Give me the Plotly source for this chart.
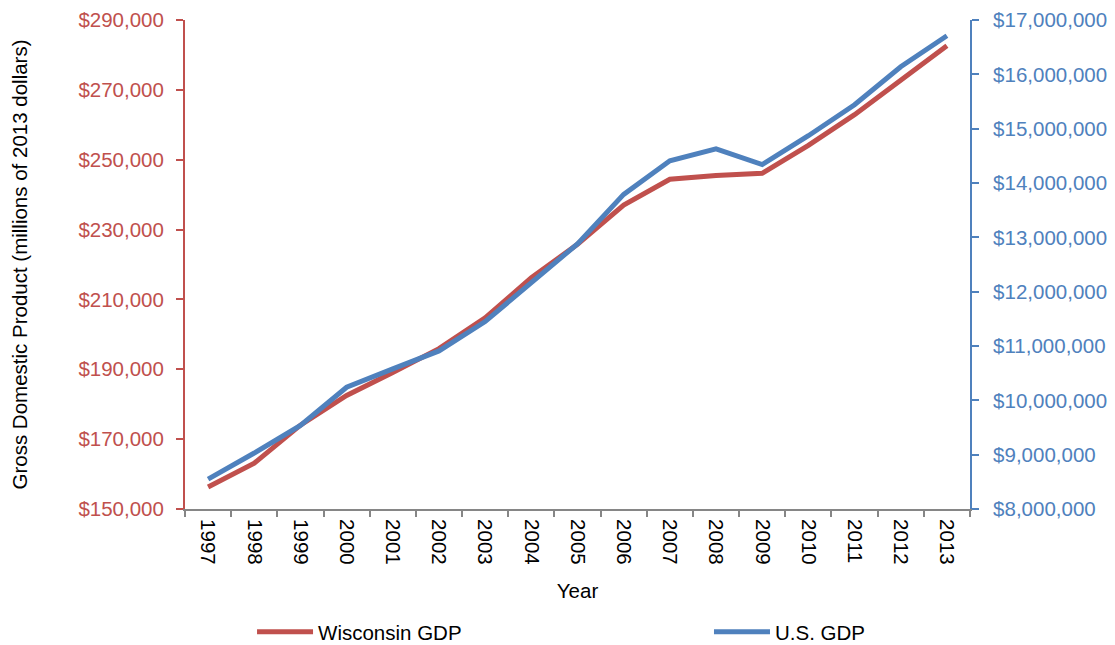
import plotly.graph_objects as go

years = [str(y) for y in range(1997, 2014)]
wisconsin_gdp = [156300, 163100, 174000, 182500, 189100, 195900, 204750, 216200,
                 225800, 237000, 244400, 245500, 246100, 254100, 262900, 272900, 282600]
us_gdp = [8550000, 9030000, 9540000, 10240000, 10580000, 10910000, 11450000, 12160000,
          12880000, 13790000, 14410000, 14630000, 14340000, 14870000, 15440000, 16140000, 16710000]

RED = "#C0504D"
BLUE = "#4F81BD"
GRAY = "#868686"
FONT = "Liberation Sans, Arial, sans-serif"
FS = 20.5

fig = go.Figure()
fig.add_trace(go.Scatter(x=years, y=wisconsin_gdp, name="Wisconsin GDP", mode="lines",
                         line=dict(color=RED, width=5), yaxis="y", legend="legend"))
fig.add_trace(go.Scatter(x=years, y=us_gdp, name="U.S. GDP", mode="lines",
                         line=dict(color=BLUE, width=5), yaxis="y2", legend="legend2"))

legend_common = dict(yref="container", y=0.0326, yanchor="middle", xanchor="left",
                     itemwidth=56, font=dict(size=FS, color="black"),
                     bgcolor="rgba(0,0,0,0)")

# the page body adds an 8px offset, so margins are shifted to compensate
fig.update_layout(
    width=1115, height=645,
    margin=dict(l=177, r=153, t=12, b=144),
    plot_bgcolor="white", paper_bgcolor="white",
    font=dict(family=FONT, size=FS, color="black"),
    showlegend=True,
    legend=dict(x=0.0854, **legend_common),
    legend2=dict(x=0.6675, **legend_common),
    xaxis=dict(type="category", range=[-0.5, 16.5], tickson="boundaries",
               ticks="outside", ticklen=6, tickwidth=1.5, tickcolor=GRAY,
               showline=True, linecolor=GRAY, linewidth=2, tickangle=90,
               ticklabelstandoff=4,
               showgrid=False, zeroline=False, automargin=False,
               title=dict(text="Year", standoff=20, font=dict(size=FS)),
               tickfont=dict(size=FS, color="black")),
    xaxis2=dict(overlaying="x", range=[-0.5, 16.5], tick0=-0.5, dtick=1,
                ticks="inside", ticklen=6, tickwidth=1.5, tickcolor=GRAY,
                showticklabels=False, showgrid=False, zeroline=False, showline=False),
    yaxis=dict(range=[150000, 290000], tick0=150000, dtick=20000, tickprefix="$",
               tickformat=",d", ticks="outside", ticklen=7, tickwidth=1.5, tickcolor=RED,
               ticklabelstandoff=8, ticklabeloverflow="allow",
               showline=True, linecolor=RED, linewidth=2, showgrid=False, zeroline=False,
               automargin=False, tickfont=dict(color=RED, size=FS),
               title=dict(text="Gross Domestic Product (millions of 2013 dollars)",
                          standoff=46, font=dict(size=FS, color="black"))),
    yaxis2=dict(range=[8000000, 17000000], tick0=8000000, dtick=1000000, tickprefix="$",
                tickformat=",d", overlaying="y", side="right",
                ticks="outside", ticklen=7, tickwidth=1.5, tickcolor=BLUE,
                ticklabelstandoff=10, ticklabeloverflow="allow",
                showline=True, linecolor=BLUE, linewidth=2, showgrid=False, zeroline=False,
                automargin=False, tickfont=dict(color=BLUE, size=FS)),
    yaxis3=dict(range=[150000, 290000], tick0=150000, dtick=20000, overlaying="y",
                side="left", ticks="inside", ticklen=7, tickwidth=1.5, tickcolor=RED,
                showticklabels=False, showgrid=False, zeroline=False, showline=False),
    yaxis4=dict(range=[8000000, 17000000], tick0=8000000, dtick=1000000, overlaying="y",
                side="right", ticks="inside", ticklen=7, tickwidth=1.5, tickcolor=BLUE,
                showticklabels=False, showgrid=False, zeroline=False, showline=False),
)

fig.write_html("out.html")
